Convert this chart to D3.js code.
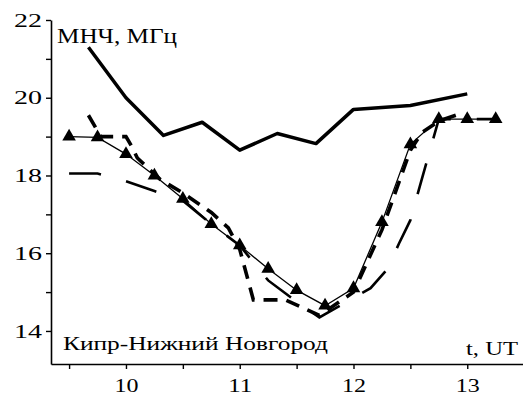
<!DOCTYPE html>
<html>
<head>
<meta charset="utf-8">
<script src="https://cdn.jsdelivr.net/npm/d3@7"></script>
<style>
  body { margin: 0; background: #fff; }
  svg { display: block; }
  text { fill: #000; }
</style>
</head>
<body>
<svg id="fig" width="523" height="396"></svg>
<script>
// МНЧ (thick solid)
var mufHours = [9.67, 10, 10.33, 10.67, 11, 11.33, 11.67, 12, 12.5, 13];
var mufVals  = [21.3, 20.0, 19.03, 19.37, 18.65, 19.08, 18.82, 19.7, 19.8, 20.1];

// triangles, thin line
var triHours = [9.5, 9.75, 10, 10.25, 10.5, 10.75, 11, 11.25, 11.5, 11.75, 12, 12.25, 12.5, 12.75, 13, 13.25];
var triVals  = [19.0, 18.98, 18.55, 18.0, 17.4, 16.75, 16.2, 15.6, 15.05, 14.65, 15.1, 16.8, 18.8, 19.45, 19.45, 19.45];

// short thick dashes
var shortHours = [9.67, 9.78, 10, 10.05, 10.1, 10.3, 10.5, 10.75, 10.9, 11, 11.12, 11.4, 11.7, 12, 12.25, 12.5, 12.6, 12.75, 12.95];
var shortVals  = [19.55, 19.0, 19.0, 18.75, 18.45, 17.9, 17.55, 17.05, 16.65, 16.1, 14.8, 14.8, 14.4, 15.0, 16.6, 18.65, 19.1, 19.4, 19.6];

// long dashes
var longHours = [9.5, 9.75, 10, 10.25, 10.5, 10.75, 11, 11.25, 11.5, 11.7, 12, 12.15, 12.3, 12.4, 12.5, 12.6, 12.75, 13, 13.25];
var longVals  = [18.05, 18.05, 17.85, 17.6, 17.35, 16.75, 16.2, 15.3, 14.75, 14.35, 14.85, 15.1, 15.6, 16.25, 16.85, 17.9, 19.45, 19.45, 19.45];

var yTicks = [14, 16, 18, 20, 22];
var yMinor = [15, 17, 19, 21];
var xTicks = [10, 11, 12, 13];
var xMinor = [9.5, 10.5, 11.5, 12.5];

var serif = "Tinos, 'Liberation Serif', 'Noto Serif', 'DejaVu Serif', 'Times New Roman', serif";

var fig = d3.select("#fig");

var x = d3.scaleLinear().domain([9.341, 13.49]).range([51, 523]);
var y = d3.scaleLinear().domain([13.15, 22]).range([364, 20]);

function zip(xs, ys) {
    return xs.map(function (h, i) { return [h, ys[i]]; });
}

var line = d3.line()
    .x(function (d) { return x(d[0]); })
    .y(function (d) { return y(d[1]); });

// axes
var xAxis = d3.axisBottom(x)
    .tickValues(xTicks.concat(xMinor))
    .tickSize(5)
    .tickPadding(10)
    .tickSizeOuter(0)
    .tickFormat(function (d) { return Number.isInteger(d) ? d : ""; });

var yAxis = d3.axisLeft(y)
    .tickValues(yTicks.concat(yMinor))
    .tickSize(5)
    .tickPadding(4)
    .tickSizeOuter(0)
    .tickFormat(function (d) { return d % 2 === 0 ? d : ""; });

var gx = fig.append("g").attr("transform", "translate(0,364)").call(xAxis);
var gy = fig.append("g").attr("transform", "translate(51,0)").call(yAxis);

[gx, gy].forEach(function (g) {
    g.attr("font-family", serif).attr("font-size", 19);
    g.select(".domain").attr("stroke", "#000").attr("stroke-width", 1.6);
    g.selectAll(".tick line").attr("stroke", "#000").attr("stroke-width", 1.4);
    g.selectAll("text").attr("fill", "#000");
});

// the original lettering is stretched sideways
gx.selectAll(".tick text").filter(function (d) { return Number.isInteger(d); })
    .attr("textLength", 24).attr("lengthAdjust", "spacingAndGlyphs");
gy.selectAll(".tick text").filter(function (d) { return d % 2 === 0; })
    .attr("textLength", 28).attr("lengthAdjust", "spacingAndGlyphs");

// series
fig.append("path")
    .datum(zip(mufHours, mufVals))
    .attr("d", line)
    .attr("fill", "none")
    .attr("stroke", "#000")
    .attr("stroke-width", 3.5)
    .attr("stroke-linejoin", "round");

fig.append("path")
    .datum(zip(longHours, longVals))
    .attr("d", line)
    .attr("fill", "none")
    .attr("stroke", "#000")
    .attr("stroke-width", 2.6)
    .attr("stroke-dasharray", "32,26");

fig.append("path")
    .datum(zip(shortHours, shortVals))
    .attr("d", line)
    .attr("fill", "none")
    .attr("stroke", "#000")
    .attr("stroke-width", 3.6)
    .attr("stroke-dasharray", "14,9");

fig.append("path")
    .datum(zip(triHours, triVals))
    .attr("d", line)
    .attr("fill", "none")
    .attr("stroke", "#000")
    .attr("stroke-width", 1.3);

fig.selectAll(".tri")
    .data(zip(triHours, triVals))
    .enter()
    .append("path")
    .attr("class", "tri")
    .attr("d", d3.symbol(d3.symbolTriangle, 80))
    .attr("transform", function (d) { return "translate(" + x(d[0]) + "," + y(d[1]) + ")"; })
    .attr("fill", "#000");

// labels
fig.append("text")
    .text("МНЧ, МГц")
    .attr("x", 57)
    .attr("y", 43)
    .attr("font-family", serif)
    .attr("font-size", 20)
    .attr("textLength", 120)
    .attr("lengthAdjust", "spacingAndGlyphs");

fig.append("text")
    .text("Кипр-Нижний Новгород")
    .attr("x", 63)
    .attr("y", 350)
    .attr("font-family", serif)
    .attr("font-size", 18)
    .attr("textLength", 265)
    .attr("lengthAdjust", "spacingAndGlyphs");

fig.append("text")
    .text("t, UT")
    .attr("x", 466)
    .attr("y", 355)
    .attr("font-family", serif)
    .attr("font-size", 19)
    .attr("textLength", 52)
    .attr("lengthAdjust", "spacingAndGlyphs");
</script>
</body>
</html>
